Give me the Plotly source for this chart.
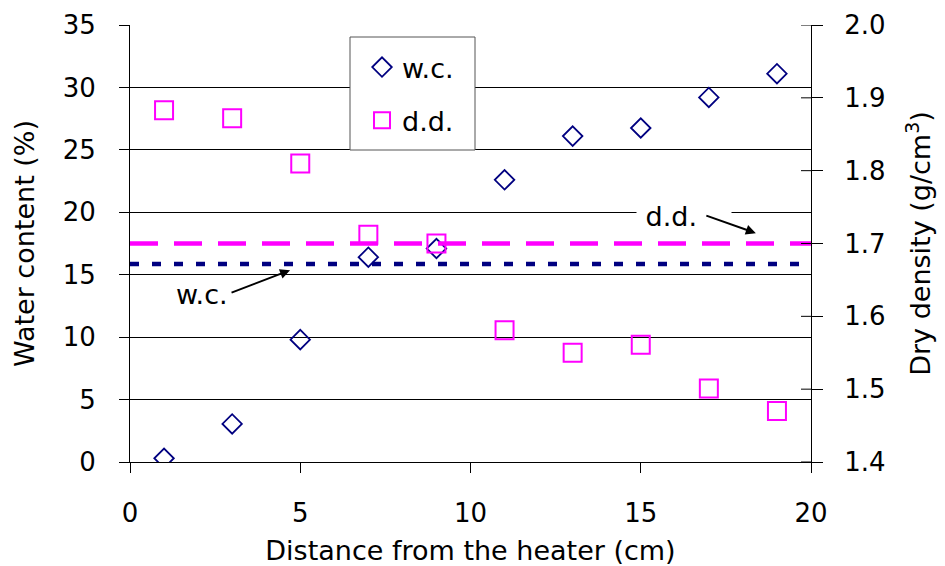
import plotly.graph_objects as go

# ---- data ----
distance = [1, 3, 5, 7, 9, 11, 13, 15, 17, 19]
water_content = [0.3, 3.05, 9.8, 16.4, 17.1, 22.6, 26.1, 26.75, 29.2, 31.1]
dry_density = [1.883, 1.872, 1.810, 1.712, 1.700, 1.581, 1.550, 1.561, 1.501, 1.470]
line_x = [0, 20]
wc_initial = [15.85, 15.85]
dd_initial = [1.70, 1.70]
x_ticks = [0, 5, 10, 15, 20]
y_left_ticks = [0, 5, 10, 15, 20, 25, 30, 35]
y_right_ticks = [1.4, 1.5, 1.6, 1.7, 1.8, 1.9, 2.0]

NAVY = "#000080"
MAG = "#FF00FF"
FONT = "DejaVu Sans"

W_PLOT = 945 - 130 - 134
H_PLOT = 566 - 25 - 104

fig = go.Figure()

fig.add_trace(go.Scatter(
    x=line_x, y=wc_initial, mode="lines", showlegend=False, hoverinfo="skip",
    line=dict(color=NAVY, width=4.5, dash="9px,13px"), yaxis="y"))
fig.add_trace(go.Scatter(
    x=distance, y=water_content, mode="markers", name="w.c.",
    legendgroup="a",
    marker=dict(symbol="diamond-open", size=15, color=NAVY, line=dict(width=1.8, color=NAVY)),
    yaxis="y"))
fig.add_trace(go.Scatter(
    x=line_x, y=dd_initial, mode="lines", showlegend=False, hoverinfo="skip",
    line=dict(color=MAG, width=4.5, dash="28px,16px"), yaxis="y2"))
fig.add_trace(go.Scatter(
    x=distance, y=dry_density, mode="markers", name="d.d.",
    legendgroup="b",
    marker=dict(symbol="square-open", size=18, color=MAG, line=dict(width=2, color=MAG)),
    yaxis="y2"))

# inner half of the crossing ticks on right axis
shapes = []
for v in y_right_ticks:
    shapes.append(dict(type="line", xref="paper", yref="y2", x0=1 - 10 / W_PLOT, x1=1,
                       y0=v, y1=v, line=dict(color="black", width=1)))

# legend frame
shapes.append(dict(type="rect", xref="paper", yref="paper", layer="above",
                   x0=(350 - 130) / W_PLOT, x1=(475 - 130) / W_PLOT,
                   y0=(462 - 150) / H_PLOT, y1=(462 - 37) / H_PLOT,
                   fillcolor="white", line=dict(color="#555555", width=1)))

annotations = [
    dict(text="w.c.", x=2.11, y=13.44, xref="x", yref="y", showarrow=False,
         font=dict(family=FONT, size=27, color="black")),
    dict(text="", x=4.70, y=15.36, xref="x", yref="y", ax=-60, ay=23,
         showarrow=True, arrowhead=2, arrowsize=1, arrowwidth=2, arrowcolor="black"),
    dict(text="\u00a0d.d.\u00a0\u00a0\u00a0\u00a0", x=16.27, y=19.69, xref="x", yref="y", showarrow=False,
         bgcolor="white", borderpad=0,
         font=dict(family=FONT, size=27, color="black")),
    dict(text="", x=18.38, y=18.33, xref="x", yref="y", ax=-51, ay=-18,
         showarrow=True, arrowhead=2, arrowsize=1, arrowwidth=2, arrowcolor="black"),
]

fig.update_layout(
    width=945, height=566,
    margin=dict(l=130, r=134, t=25, b=104),
    paper_bgcolor="white", plot_bgcolor="white",
    font=dict(family=FONT, size=26, color="black"),
    xaxis=dict(range=[0, 20], tickvals=x_ticks, ticks="outside", ticklen=10,
               tickcolor="black", showline=True, linecolor="black", linewidth=1,
               showgrid=False, zeroline=False, ticklabelstandoff=18,
               title=dict(text="Distance from the heater (cm)", font=dict(size=27), standoff=14),
               automargin=False),
    yaxis=dict(range=[0, 35], tickvals=y_left_ticks, ticks="outside", ticklen=10,
               tickcolor="black", showline=True, linecolor="black", linewidth=1,
               showgrid=True, gridcolor="black", gridwidth=1, zeroline=False,
               ticklabelstandoff=18,
               title=dict(text="Water content (%)", font=dict(size=27), standoff=20),
               automargin=False),
    yaxis2=dict(range=[1.4, 2.0], tickvals=y_right_ticks, tickformat=".1f",
                overlaying="y", side="right", ticks="outside", ticklen=11,
                tickcolor="black", showline=True, linecolor="black", linewidth=1,
                showgrid=False, zeroline=False, ticklabelstandoff=16,
                title=dict(text="Dry density (g/cm<sup>3</sup>)", font=dict(size=27), standoff=26),
                automargin=False),
    legend=dict(x=(362 - 130) / W_PLOT, y=(462 - 43) / H_PLOT, xanchor="left", yanchor="top",
                bgcolor="rgba(0,0,0,0)", borderwidth=0,
                font=dict(family=FONT, size=27), traceorder="grouped", tracegroupgap=15),
    shapes=shapes,
    annotations=annotations,
    showlegend=True,
)

fig.write_html("out.html")
